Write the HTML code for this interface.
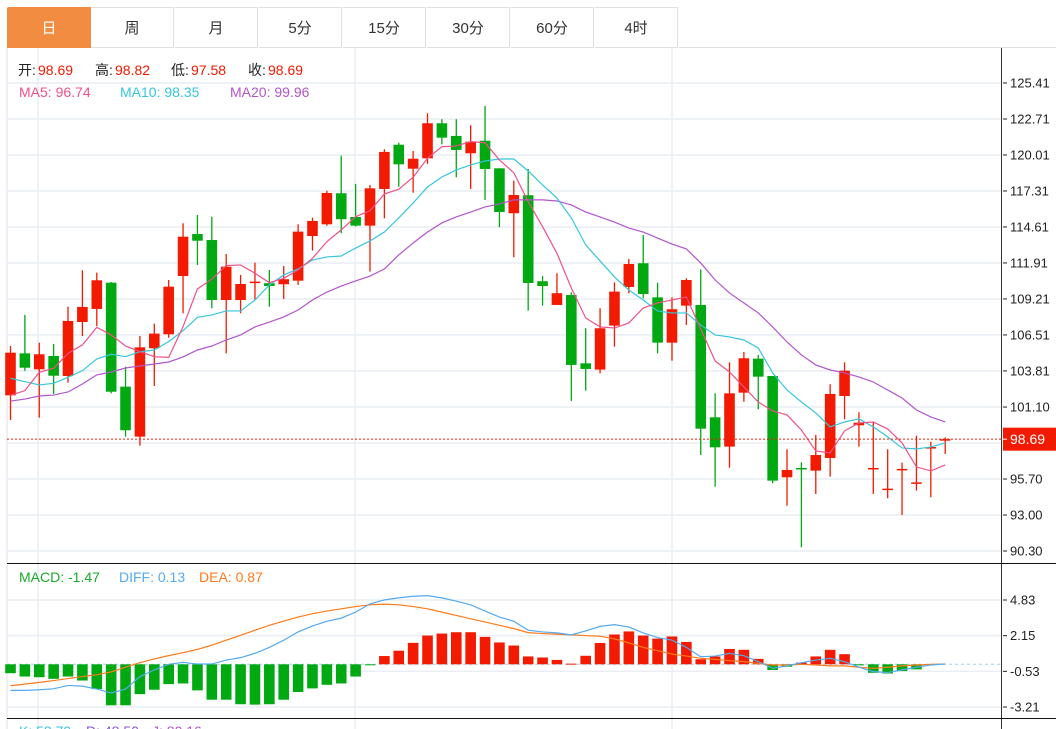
<!DOCTYPE html>
<html><head><meta charset="utf-8"><style>
body{margin:0;background:#fff;font-family:"Liberation Sans","Noto Sans CJK SC",sans-serif;}
#wrap{position:relative;width:1056px;height:729px;overflow:hidden;}
.tab{position:absolute;top:7px;height:41px;width:83px;border:1px solid #dde1e6;border-left:none;text-align:center;line-height:41px;font-size:15px;color:#333;box-sizing:border-box;}
</style></head><body>
<div id="wrap">
<div class="tab" style="left:7px;width:84px;background:#f28c40;color:#fff;border:1px solid #f28c40;border-radius:2px 0 0 0">日</div>
<div class="tab" style="left:91px">周</div>
<div class="tab" style="left:175px">月</div>
<div class="tab" style="left:259px">5分</div>
<div class="tab" style="left:343px">15分</div>
<div class="tab" style="left:427px">30分</div>
<div class="tab" style="left:511px">60分</div>
<div class="tab" style="left:595px">4时</div>
<div style="position:absolute;left:679px;top:7px;width:377px;height:41px;border-bottom:1px solid #dde1e6;box-sizing:border-box"></div>
<svg id="svg" width="1056" height="729" style="position:absolute;left:0;top:0"></svg>
</div>
<script>
const opens=[101.98,105.13,103.93,104.93,103.43,107.48,108.46,110.43,102.63,98.88,105.51,106.56,110.93,114.08,113.63,109.13,109.13,110.43,110.39,110.31,110.58,113.93,114.81,117.14,115.36,114.71,117.46,120.78,118.98,119.76,122.39,121.44,120.14,121.08,119.01,115.64,116.99,110.54,108.76,109.51,104.38,103.91,107.21,110.11,111.89,109.33,105.93,108.71,108.76,100.33,98.13,102.18,104.73,103.43,95.83,96.53,96.33,97.28,101.93,99.73,96.51,94.96,96.43,95.42,98.08,98.69];
const highs=[105.68,108.01,105.93,105.83,108.63,111.36,111.18,110.48,104.13,106.43,107.36,110.63,114.89,115.51,115.38,112.58,111.01,111.93,111.38,111.68,114.81,115.31,117.33,119.96,117.84,117.76,120.44,120.93,120.31,123.14,122.69,122.69,122.24,123.69,119.01,118.08,118.96,110.93,111.14,109.71,107.01,108.51,110.46,112.21,114.01,110.43,109.33,110.76,111.43,102.13,104.46,105.23,105.01,103.43,97.93,96.96,99.01,102.81,104.46,100.71,99.99,97.93,96.93,98.95,98.50,98.82];
const lows=[100.13,103.81,100.30,102.08,102.93,106.43,107.18,102.13,98.88,98.20,102.68,106.30,108.14,111.76,108.51,105.13,108.14,109.13,108.63,109.21,110.26,112.83,114.70,114.14,114.65,111.26,115.26,117.63,117.18,119.34,120.81,118.34,117.46,116.64,114.59,112.34,108.33,108.71,108.76,101.56,102.33,103.63,105.63,109.63,109.26,105.13,104.58,107.26,97.50,95.13,96.55,101.50,100.93,95.38,93.70,90.58,94.58,95.88,100.18,98.13,94.58,94.26,93.00,94.83,94.33,97.58];
const closes=[105.18,104.05,105.06,103.45,107.56,108.61,110.61,102.25,99.36,105.58,106.61,110.13,113.88,113.58,109.13,111.63,110.33,110.51,110.18,110.69,114.26,115.06,117.16,115.19,114.71,117.51,120.24,119.31,119.73,122.39,121.31,120.39,121.01,118.96,115.73,117.01,110.41,110.18,109.64,104.26,103.96,107.01,109.76,111.83,109.58,105.93,108.44,110.63,99.48,98.08,102.13,104.76,103.38,95.58,96.38,96.43,97.50,102.08,103.83,99.93,96.53,94.98,96.46,95.45,98.10,98.69];
const ma5=[101.98,102.33,103.71,104.01,105.13,105.76,107.08,106.51,105.68,105.25,104.88,104.83,107.13,109.96,110.69,111.71,111.76,111.14,110.43,110.76,111.38,112.26,113.51,114.39,115.38,115.83,117.08,117.44,118.34,119.76,120.63,120.69,121.01,120.93,119.64,118.68,116.51,114.63,112.64,110.03,107.78,107.11,107.03,107.41,108.53,108.91,109.13,109.36,106.96,104.56,103.73,102.61,101.48,100.81,100.51,99.38,97.81,97.66,99.31,99.91,99.98,99.46,98.41,96.61,96.31,96.76];
const ma10=[103.26,103.00,102.76,102.88,103.33,103.83,104.71,105.06,104.88,105.25,105.38,106.01,106.83,107.83,108.01,108.31,108.31,109.13,110.26,111.01,111.46,112.13,112.36,112.43,113.03,113.56,114.23,115.29,116.41,117.61,118.36,118.89,119.26,119.56,119.71,119.71,118.81,117.76,116.78,115.29,113.26,112.06,110.86,109.88,109.13,108.31,108.16,108.16,107.26,106.51,106.36,106.13,105.53,103.66,102.38,101.48,100.66,99.61,99.98,100.21,99.61,98.86,98.03,97.96,98.11,98.41];
const ma20=[101.55,101.70,101.93,102.00,102.23,102.83,103.51,103.73,104.03,104.18,104.33,104.48,104.86,105.38,105.68,106.13,106.51,107.11,107.48,107.86,108.38,109.13,109.73,110.18,110.56,110.93,111.46,112.51,113.41,114.23,114.91,115.36,115.73,116.11,116.34,116.64,116.64,116.64,116.56,116.26,115.73,115.36,114.98,114.53,114.23,113.78,113.33,112.96,111.91,110.63,109.66,108.91,108.16,107.11,105.98,105.01,104.26,103.88,103.66,103.36,102.98,102.38,101.78,100.88,100.36,99.98];
const macdHist=[-0.67,-0.92,-0.97,-1.09,-0.92,-1.22,-1.86,-3.08,-3.08,-2.24,-1.91,-1.49,-1.44,-1.96,-2.66,-2.66,-3.0,-3.03,-3.0,-2.66,-2.08,-1.81,-1.54,-1.44,-0.92,-0.07,0.62,1.02,1.61,2.16,2.31,2.41,2.41,2.06,1.64,1.41,0.59,0.51,0.33,0.05,0.64,1.6,2.24,2.47,2.16,1.93,2.09,1.68,0.38,0.59,1.15,1.09,0.41,-0.43,-0.18,0.13,0.59,1.09,0.76,-0.08,-0.64,-0.69,-0.51,-0.38,0,0];
const diff=[-1.96,-1.96,-1.91,-1.84,-1.59,-1.64,-1.86,-2.16,-1.86,-0.92,-0.42,0,0.15,0.02,0.02,0.32,0.50,0.82,1.27,1.81,2.43,2.88,3.23,3.47,3.92,4.54,4.84,4.99,5.11,5.16,4.99,4.74,4.47,4.00,3.55,3.23,2.56,2.43,2.36,2.21,2.51,2.85,2.98,2.80,2.36,2.01,1.81,1.27,0.57,0.62,0.82,0.65,0.20,-0.30,-0.12,0.12,0.32,0.45,0.20,-0.22,-0.55,-0.62,-0.42,-0.22,-0.05,0.02];
const dea=[-1.61,-1.49,-1.36,-1.22,-1.07,-0.92,-0.79,-0.57,-0.22,0.12,0.40,0.65,0.87,1.12,1.44,1.81,2.18,2.56,2.93,3.25,3.55,3.80,4.00,4.17,4.34,4.47,4.52,4.47,4.34,4.17,3.92,3.67,3.42,3.18,2.93,2.68,2.38,2.31,2.26,2.21,2.16,2.11,1.91,1.61,1.27,1.02,0.77,0.62,0.45,0.37,0.27,0.20,0.07,-0.05,-0.05,0,-0.05,-0.12,-0.12,-0.22,-0.30,-0.22,-0.12,-0.05,0,0.02];
const priceTicks=["125.41","122.71","120.01","117.31","114.61","111.91","109.21","106.51","103.81","101.10","98.40","95.70","93.00","90.30"];
const macdTicks=["4.83","2.15","-0.53","-3.21"];
const lastPrice=98.69;

const NS="http://www.w3.org/2000/svg";
const svg=document.getElementById('svg');
function mk(tag,attrs,parent){const e=document.createElementNS(NS,tag);for(const k in attrs)e.setAttribute(k,attrs[k]);(parent||svg).appendChild(e);return e;}
const X0=10.5,DX=14.38;
const xAt=i=>X0+DX*i;
const yP=p=>83+(125.41-p)*13.33;
const yM=v=>664.3-v*13.31;
const RED="#f21a00",GREEN="#00a812";

// frame & grid
const frame=mk('g',{});


mk('line',{x1:7,y1:48,x2:7,y2:729,stroke:'#dde1e6'},frame);
[38,355,672].forEach(x=>mk('line',{x1:x,y1:48,x2:x,y2:729,stroke:'#e8eef4','stroke-width':1.5},frame));
priceTicks.forEach(t=>{const y=yP(parseFloat(t));mk('line',{x1:7,y1:y,x2:1001,y2:y,stroke:'#e8eef4','stroke-width':1.5},frame);});
macdTicks.forEach(t=>{const y=yM(parseFloat(t));mk('line',{x1:7,y1:y,x2:1001,y2:y,stroke:'#e8eef4','stroke-width':1.5},frame);});
mk('line',{x1:1001.5,y1:48,x2:1001.5,y2:729,stroke:'#333'},frame);
mk('line',{x1:7,y1:563.5,x2:1056,y2:563.5,stroke:'#111'},frame);
mk('line',{x1:7,y1:718.5,x2:1056,y2:718.5,stroke:'#111'},frame);

// y axis labels
const ax=mk('g',{'font-size':13,fill:'#222','font-family':'Liberation Sans, sans-serif'});


priceTicks.forEach(t=>{const y=yP(parseFloat(t));mk('line',{x1:1003,y1:y,x2:1007,y2:y,stroke:'#222'},ax);const tx=mk('text',{x:1010,y:y+4.5},ax);tx.textContent=t;});
const ax2=mk('g',{'font-size':13,fill:'#222','font-family':'Liberation Sans, sans-serif'});


macdTicks.forEach(t=>{const y=yM(parseFloat(t));mk('line',{x1:1003,y1:y,x2:1007,y2:y,stroke:'#222'},ax2);const tx=mk('text',{x:1010,y:y+4.5},ax2);tx.textContent=t;});

// candles
const cg=mk('g',{});


closes.forEach((c,i)=>{
  const o=opens[i],col=c>=o?RED:GREEN,x=xAt(i);
  const g=mk('g',{},cg);
  
  
  mk('line',{x1:x,y1:yP(highs[i]),x2:x,y2:yP(lows[i]),stroke:col,'stroke-width':1.3},g);
  const t=yP(Math.max(o,c)),b=yP(Math.min(o,c));
  mk('rect',{x:x-5.3,y:t,width:10.6,height:Math.max(1.5,b-t),fill:col},g);
});

// MA lines
function line(arr,fn,col,name){const p=mk('polyline',{points:arr.map((v,i)=>xAt(i)+','+fn(v)).join(' '),fill:'none',stroke:col,'stroke-width':1.2});}
line(ma20,yP,'#b355cc','ma20-line');
line(ma10,yP,'#35c6dc','ma10-line');
line(ma5,yP,'#f0508a','ma5-line');

// last price
const lp=yP(lastPrice);
const lpl=mk('line',{x1:7,y1:lp,x2:1001,y2:lp,stroke:'#f21a00','stroke-dasharray':'2,2'});


const lb=mk('g',{});


mk('rect',{x:1003,y:lp-11.5,width:53,height:23,fill:'#f21a00'},lb);
mk('line',{x1:1003,y1:lp,x2:1007,y2:lp,stroke:'#fff'},lb);
const lt=mk('text',{x:1010,y:lp+5,fill:'#fff','font-size':14},lb);lt.textContent=lastPrice.toFixed(2);

// MACD
const z=mk('line',{x1:7,y1:664.3,x2:1001,y2:664.3,stroke:'#9fd4ee','stroke-dasharray':'3,3'});


const hg=mk('g',{});


macdHist.forEach((v,i)=>{
  if(v===0)return;
  const y=yM(v),y0=yM(0);
  const r=mk('rect',{x:xAt(i)-5.3,y:Math.min(y,y0),width:10.6,height:Math.max(1,Math.abs(y-y0)),fill:v>=0?RED:GREEN},hg);
  
  
});
line(dea,yM,'#ff7a1a','dea-line');
line(diff,yM,'#55aaf0','diff-line');

// legends
function txt(x,y,s,col,name,size){const t=mk('text',{x:x,y:y,fill:col,'font-size':size||14,'font-family':'Liberation Sans, Noto Sans CJK SC, sans-serif'});t.textContent=s;return t;}
txt(18,75,'开:','#222','open-label');txt(38,75,'98.69','#f21a00','open-value');
txt(95,75,'高:','#222','high-label');txt(115,75,'98.82','#f21a00','high-value');
txt(171,75,'低:','#222','low-label');txt(191,75,'97.58','#f21a00','low-value');
txt(248,75,'收:','#222','close-label');txt(268,75,'98.69','#f21a00','close-value');
txt(19,97,'MA5: 96.74','#f0508a','ma5-legend');
txt(120,97,'MA10: 98.35','#35c6dc','ma10-legend');
txt(230,97,'MA20: 99.96','#b355cc','ma20-legend');
txt(19,582,'MACD: -1.47','#1aaa2a','macd-legend');
txt(119,582,'DIFF: 0.13','#55aaf0','diff-legend');
txt(199,582,'DEA: 0.87','#ff7a1a','dea-legend');
txt(19,736,'K: 58.79','#35c6dc','k-legend');
txt(86,736,'D: 48.50','#8a55cc','d-legend');
txt(152,736,'J: 80.16','#b355cc','j-legend');
</script>
</body></html>
